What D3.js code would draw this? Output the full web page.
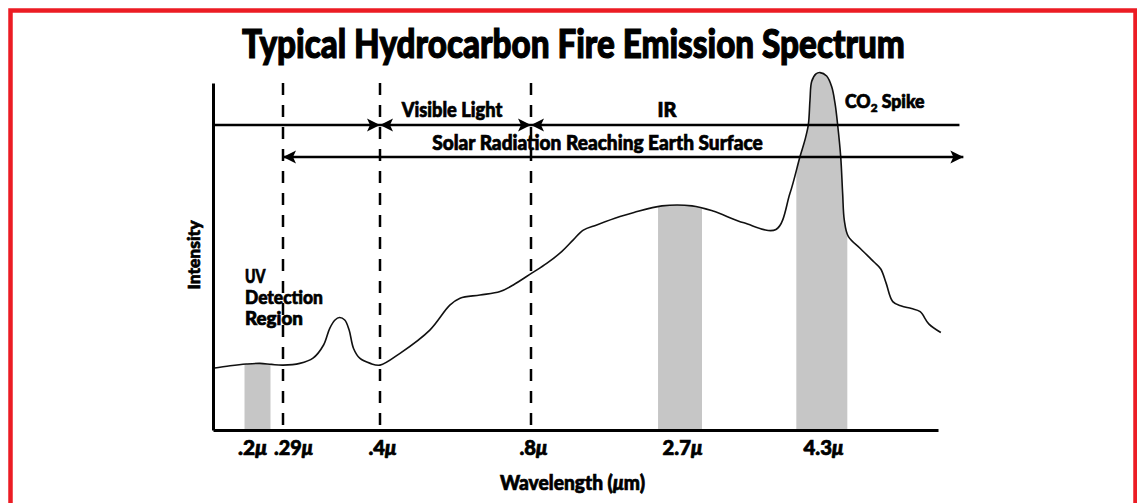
<!DOCTYPE html>
<html><head><meta charset="utf-8">
<script src="https://cdn.jsdelivr.net/npm/d3@7"></script>
<style>
html,body{margin:0;padding:0;background:#fff;}
svg{display:block;}
text{font-family:'Lato','Roboto','Liberation Sans',sans-serif;font-weight:900;fill:#000;stroke:#000;stroke-width:0.7px;}
</style></head><body>
<svg id="chart" width="1137" height="503"></svg>
<script>
// ---- data ----
const tickWaves = [0.2, 0.29, 0.4, 0.8, 2.7, 4.3];
const tickLabels = [".2", ".29", ".4", ".8", "2.7", "4.3"];
const dividerWaves = [0.29, 0.4, 0.8];
const bandStarts = [0.185, 2.42, 4.02];
const bandEnds = [0.245, 2.95, 4.57];
const wavelengths = [0.15,0.169,0.187,0.207,0.249,0.29,0.309,0.324,0.336,0.343,0.349,0.354,0.360,0.365,0.370,0.377,0.389,0.4,0.453,0.532,0.585,0.612,0.665,0.718,0.753,0.809,1.0,1.191,1.339,1.467,1.638,1.935,2.113,2.47,2.836,3.074,3.426,3.789,3.948,4.062,4.118,4.156,4.175,4.194,4.243,4.289,4.358,4.41,4.444,4.471,4.502,4.522,4.539,4.58,4.703,4.844,4.913,4.967,5.036,5.125,5.229,5.317,5.405,5.529];
const intensities = [17.8,18.5,19.0,19.2,18.9,18.7,19.2,20.7,24.5,29.3,31.7,32.4,31.7,28.8,23.5,20.7,19.2,18.7,22.1,28.8,36.0,38.0,38.9,39.9,41.8,45.2,48.0,51.4,54.8,57.6,59.1,61.5,62.7,64.6,64.6,63.1,59.7,57.8,68.2,78.8,83.6,87.9,95.1,100.4,102.6,103.0,102.0,98.9,94.1,87.9,78.8,68.2,60.5,55.8,52.3,48.4,46.4,42.4,37.0,35.7,35.0,34.1,30.6,28.1];
const axisWaves = [0.15, 0.2, 0.29, 0.4, 0.8, 2.7, 4.3, 5.5];
const irEnd = 5.72, solarEnd = 5.76;

// ---- layout ----
const axisPixels = [213, 258, 283, 380, 531, 680, 821, 938];
const labelNudge = {0.2: -6, 0.29: 10};
const labelWidth = {0.2: 29, 0.29: 39, 0.4: 28, 0.8: 28, 2.7: 40, 4.3: 40};
const points = wavelengths.map((w, i) => ({w, v: intensities[i]}));

const svg = d3.select('#chart');
svg.append('rect').attr('x', 10.5).attr('y', 10.5).attr('width', 1125).attr('height', 600)
  .attr('fill', '#fff').attr('stroke', '#ec1c24').attr('stroke-width', 4.5);

const x = d3.scaleLinear().domain(axisWaves).range(axisPixels);
const y = d3.scaleLinear().domain([0, 100]).range([430, 83]);

// horizontal fit: compress a text around its anchor to a target width
function fit(t, target) {
  const bb = t.node().getBBox();
  const sx = target / bb.width;
  const ax = +t.attr('x') || 0;
  t.attr('transform', `translate(${ax * (1 - sx)},0) scale(${sx},1)`);
  return t;
}

// bands clipped under curve
const defs = svg.append('defs');
const clip = defs.append('clipPath').attr('id', 'bands');
bandStarts.forEach((b, i) => {
  clip.append('rect').attr('x', x(b)).attr('y', 0)
    .attr('width', x(bandEnds[i]) - x(b)).attr('height', y(0));
});
const curve = d3.curveCatmullRom.alpha(0.5);
const area = d3.area().x(d => x(d.w)).y0(y(0)).y1(d => y(d.v)).curve(curve);
const line = d3.line().x(d => x(d.w)).y(d => y(d.v)).curve(curve);
svg.append('path').datum(points).attr('d', area).attr('fill', '#c6c6c6').attr('clip-path', 'url(#bands)');

// dashed dividers
svg.selectAll('.div').data(dividerWaves).enter().append('line')
  .attr('x1', d => x(d)).attr('x2', d => x(d)).attr('y1', y(100)).attr('y2', y(0))
  .attr('stroke', '#000').attr('stroke-width', 2.5).attr('stroke-dasharray', '12,10');

// curve
svg.append('path').datum(points).attr('d', line).attr('fill', 'none')
  .attr('stroke', '#111').attr('stroke-width', 1.6);

// axes
const xAxis = d3.axisBottom(x).tickValues(tickWaves).tickSize(0).tickSizeOuter(0);
const gx = svg.append('g').attr('transform', `translate(0,${y(0)})`).call(xAxis)
  .attr('font-family', null).attr('font-size', 20);
gx.select('.domain').attr('stroke', '#000').attr('stroke-width', 3);
gx.selectAll('.tick text').each(function(d, i) {
  const t = d3.select(this);
  t.text(tickLabels[i]).attr('y', 25).attr('dy', 0).attr('x', labelNudge[d] || 2).attr('fill', '#000');
  t.append('tspan').attr('font-style', 'italic').text('μ');
  fit(t, labelWidth[d]);
});
const yAxis = d3.axisLeft(y).tickValues([]).tickSize(0).tickSizeOuter(0);
const gy = svg.append('g').attr('transform', `translate(${x(axisWaves[0])},0)`).call(yAxis);
gy.select('.domain').attr('stroke', '#000').attr('stroke-width', 3);

// annotation arrows
const topY = 125, secY = 157;
function hline(x1, x2, yy) {
  svg.append('line').attr('x1', x1).attr('x2', x2).attr('y1', yy).attr('y2', yy)
    .attr('stroke', '#000').attr('stroke-width', 2.4);
}
function head(tip, yy, dir) {
  const L = 13, H = 6.5;
  svg.append('path')
    .attr('d', `M${tip},${yy}L${tip - dir * L},${yy - H}L${tip - dir * (L - 3)},${yy}L${tip - dir * L},${yy + H}Z`)
    .attr('fill', '#000');
}
hline(x(axisWaves[0]), x(0.4), topY); head(x(0.4), topY, 1);
hline(x(0.4), x(0.8), topY); head(x(0.4), topY, -1); head(x(0.8), topY, 1);
hline(x(0.8), x(irEnd), topY); head(x(0.8), topY, -1);
hline(x(0.29), x(solarEnd), secY); head(x(0.29), secY, -1); head(x(solarEnd), secY, 1);

// texts
function txt(s, xx, yy, size, anchor, len, parent) {
  const t = (parent || svg).append('text').attr('x', xx).attr('y', yy).attr('font-size', size)
    .attr('text-anchor', anchor).text(s);
  return t;
}
fit(txt('Typical Hydrocarbon Fire Emission Spectrum', 573.5, 58, 40, 'middle').style('stroke-width', '1.2px'), 663);
fit(txt('Visible Light', 452, 117, 20, 'middle'), 102);
fit(txt('IR', 667, 117, 20, 'middle'), 20);
fit(txt('Solar Radiation Reaching Earth Surface', 597.5, 150, 20, 'middle'), 331);
const co = txt('CO', 845, 108, 18, 'start');
co.append('tspan').attr('font-size', 12).attr('dy', 4).text('2');
co.append('tspan').attr('dy', -4).text(' Spike');
fit(co, 80);
fit(txt('UV', 245, 283, 19, 'start'), 21);
fit(txt('Detection', 245, 304, 19, 'start'), 78);
fit(txt('Region', 245, 325, 19, 'start'), 58);
const wl = txt('Wavelength (', 572.5, 490, 20, 'middle');
wl.append('tspan').attr('font-style', 'italic').text('μ');
wl.append('tspan').text('m)');
fit(wl, 145);
const gi = svg.append('g').attr('transform', 'translate(200,255) rotate(-90)');
fit(txt('Intensity', 0, 0, 17, 'middle', null, gi), 70);
</script>
</body></html>
